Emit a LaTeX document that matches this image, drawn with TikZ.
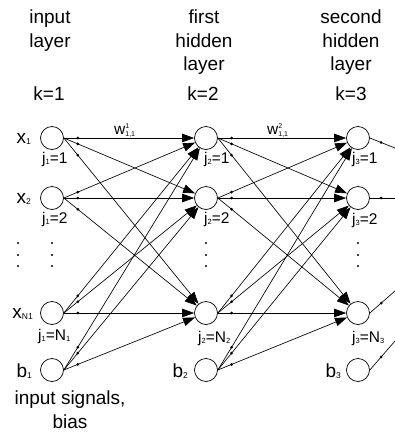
\documentclass[tikz,border=0pt]{standalone}
\usepackage{fontspec}
\setmainfont{Liberation Sans}
\usetikzlibrary{arrows.meta,calc}
\newcommand\Sb[1]{\raisebox{-1.6pt}{\fontsize{8.5}{8.5}\selectfont #1}}
\newcommand\Js[1]{\raisebox{-1.4pt}{\fontsize{7.5}{7.5}\selectfont #1}}
\newcommand\Wsc[2]{\rlap{\raisebox{6pt}{\fontsize{7}{7}\selectfont #1}}\raisebox{-2pt}{\fontsize{7}{7}\selectfont #2}}
\tikzset{
  neuron/.style={circle,draw,minimum size=23pt,inner sep=0pt,line width=0.7pt},
  conn/.style={line width=0.65pt,-{Triangle[length=12pt,width=8.5pt]}},
  plain/.style={line width=0.65pt},
  big/.style={font=\fontsize{19}{23.5}\selectfont,inner sep=0pt,align=center},
  jl/.style={font=\fontsize{15.5}{15.5}\selectfont,inner sep=0pt,anchor=base west},
}
\begin{document}
\begin{tikzpicture}[x=1pt,y=-1pt]
\useasboundingbox (0,0) rectangle (395,432);
% neurons
\foreach \n/\x/\y in {a1/52/138,a2/52/198,aN/52/313,ab/52/370,
                      b1/206/138,b2/206/198,bN/206/313,bb/206/370,
                      c1/358/138,c2/358/198,cN/358/313,cb/358/370}
  \node[neuron] (\n) at (\x,\y) {};
% connections layer 1 -> 2 and 2 -> 3
\foreach \s in {a1,a2,aN,ab}
  \foreach \t in {b1,b2,bN}{
    \draw[conn] (\s.east) -- (\t);
    \fill ($(\s.east)!0.098!(\t)$) circle (1.5pt);
  }
\foreach \s in {b1,b2,bN,bb}
  \foreach \t in {c1,c2,cN}{
    \draw[conn] (\s.east) -- (\t);
    \fill ($(\s.east)!0.098!(\t)$) circle (1.5pt);
  }
% outputs
\coordinate (o1) at (395,148);
\coordinate (o2) at (395,198);
\coordinate (oN) at (395,291);
\coordinate (ob) at (395,341);
\foreach \s/\t in {c1/o1,c2/o2,cN/oN,cb/ob}{
  \draw[plain] (\s.east) -- (\t);
  \fill ($(\s.east)!0.45!(\t)$) circle (1.5pt);
}
% vertical ellipses
\foreach \x in {18,52,206,358}
  \foreach \y in {243,255,266}
    \fill (\x,\y) circle (1.2pt);
% headers
\node[big,anchor=north] (hIn) at (50,10) {input\\layer};
\node[big,anchor=north] (hH1) at (204,10) {first\\hidden\\layer};
\node[big,anchor=north] (hH2) at (351,10) {second\\hidden\\layer};
\node[big,anchor=base] (k1) at (49,100) {k=1};
\node[big,anchor=base] (k2) at (203,100) {k=2};
\node[big,anchor=base] (k3) at (351,100) {k=3};
% input labels
\node[big,anchor=base east] (lx1) at (31,143) {x\Sb{1}};
\node[big,anchor=base east] (lx2) at (31,203) {x\Sb{2}};
\node[big,anchor=base east] (lxN) at (33,318) {x\Sb{N1}};
\node[big,anchor=base east] (lb1) at (32,377) {b\Sb{1}};
\node[big,anchor=base east] (lb2) at (188,377) {b\Sb{2}};
\node[big,anchor=base east] (lb3) at (341,377) {b\Sb{3}};
% j labels
\node[jl] (j11) at (42,163) {j\Js{1}=1};
\node[jl] (j12) at (42,223) {j\Js{1}=2};
\node[jl] (j1N) at (38,340) {j\Js{1}=N\Js{1}};
\node[jl] (j21) at (204,163) {j\Js{2}=1};
\node[jl] (j22) at (204,223) {j\Js{2}=2};
\node[jl] (j2N) at (198,342) {j\Js{2}=N\Js{2}};
\node[jl] (j31) at (352,163) {j\Js{3}=1};
\node[jl] (j32) at (352,224) {j\Js{3}=2};
\node[jl] (j3N) at (352,342) {j\Js{3}=N\Js{3}};
% weights
\node[jl] (w1) at (114,134) {w\Wsc{1}{1,1}};
\node[jl] (w2) at (267,134) {w\Wsc{2}{1,1}};
% bottom
\node[big,anchor=north] (bot) at (70,391) {input signals,\\bias};
\end{tikzpicture}
\end{document}
